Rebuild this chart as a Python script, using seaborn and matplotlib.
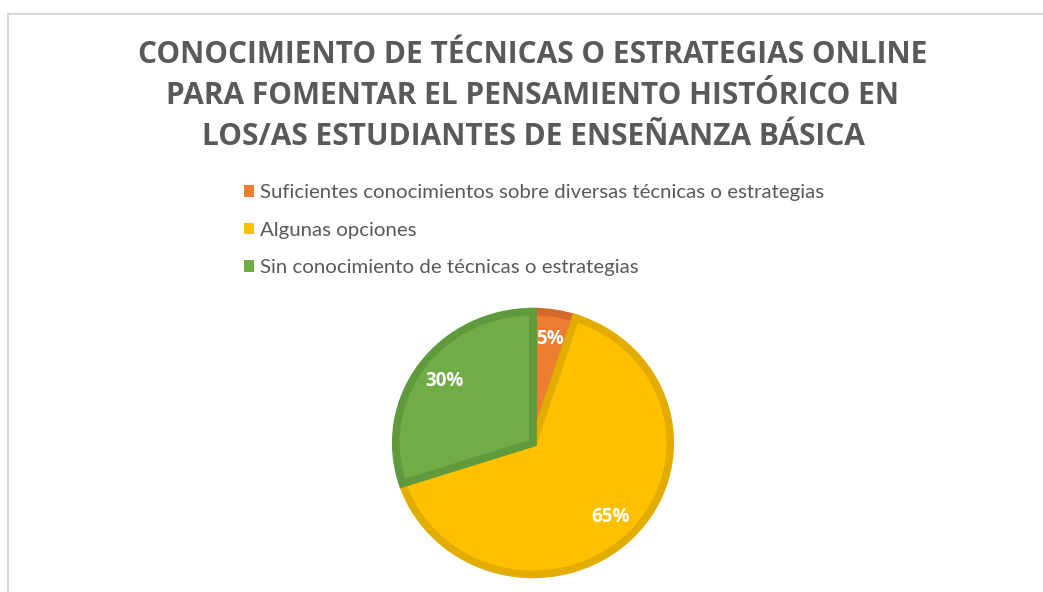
import matplotlib
matplotlib.use("Agg")
import matplotlib.pyplot as plt
import seaborn as sns
from matplotlib.patches import Rectangle, Patch

categories = ['Suficientes conocimientos sobre diversas técnicas o estrategias',
              'Algunas opciones',
              'Sin conocimiento de técnicas o estrategias']
values = [5, 65, 30]
title_lines = ['CONOCIMIENTO DE TÉCNICAS O ESTRATEGIAS ONLINE',
               'PARA FOMENTAR EL PENSAMIENTO HISTÓRICO EN',
               'LOS/AS ESTUDIANTES DE ENSEÑANZA BÁSICA']

sns.set_theme(style='white')
plt.rcParams['font.family'] = ['Open Sans', 'DejaVu Sans']

fill_colors = ['#ED7D31', '#FFC000', '#70AD47']
edge_colors = ['#D4692A', '#E3AC00', '#5F9B3C']
text_gray = '#595959'

fig = plt.figure(figsize=(10.43, 5.92), dpi=100)

# outer frame (Excel chart border)
fig.patches.append(Rectangle((8 / 1043, -0.1), 1.2, (592 - 14) / 592 + 0.1,
                             transform=fig.transFigure, fill=False,
                             edgecolor='#d9d9d9', lw=1.5))

for i, line in enumerate(title_lines):
    fig.text(0.511, 1 - (55 + 41 * i) / 592, line, ha='center', va='center',
             fontsize=21.5, fontweight='bold', color=text_gray)

ax = fig.add_axes([(533 - 140) / 1043, (149 - 134) / 592, 280 / 1043, 268 / 592])
wedges, texts, autotexts = ax.pie(values, colors=fill_colors, startangle=90,
                                  counterclock=False, autopct='%1.0f%%',
                                  pctdistance=0.8,
                                  wedgeprops=dict(linewidth=5.5))
for w, ec in zip(wedges, edge_colors):
    w.set_edgecolor(ec)
for t in autotexts:
    t.set_color('white')
    t.set_fontweight('bold')
    t.set_fontsize(13.5)
ax.set_aspect('auto')
ax.set_xlim(-1.02, 1.02)
ax.set_ylim(-1.02, 1.02)
ax.axis('off')

handles = [Patch(facecolor=c, edgecolor='none') for c in fill_colors]
leg = fig.legend(handles, categories, loc='upper left',
                 bbox_to_anchor=(226 / 1043, 1 - 166 / 592),
                 frameon=False, handlelength=0.48, handleheight=0.48,
                 handletextpad=0.3, labelspacing=1.0,
                 prop={'family': 'Lato', 'size': 14.7})
for t in leg.get_texts():
    t.set_color(text_gray)

fig.savefig('out.png', dpi=100)
